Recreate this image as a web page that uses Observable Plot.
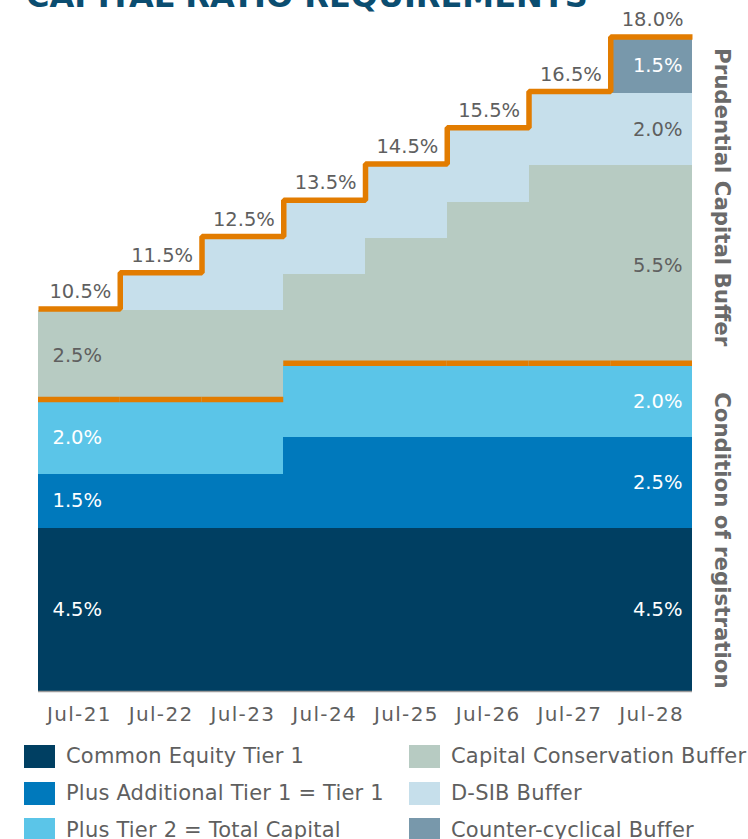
<!DOCTYPE html>
<html>
<head>
<meta charset="utf-8">
<script src="https://cdn.jsdelivr.net/npm/d3@7"></script>
<script src="https://cdn.jsdelivr.net/npm/@observablehq/plot@0.6"></script>
<style>
  body { margin: 0; background: #fff; font-family: "DejaVu Sans", sans-serif; }
  #wrap { position: relative; width: 748px; height: 839px; overflow: hidden; }
  #title { position: absolute; left: 26px; top: -20px; font: bold 32px "DejaVu Sans", sans-serif; line-height: 32px; color: #0b4d70; white-space: nowrap; z-index: 2; }
  #chart { position: absolute; left: 0; top: 0; }
  #legend { position: absolute; left: 24px; top: 738px; display: grid; grid-auto-flow: column; grid-template-columns: 385px auto; grid-template-rows: repeat(3, 36.7px); }
  .item { display: flex; align-items: center; font: 21px "DejaVu Sans", sans-serif; letter-spacing: 0.2px; color: #5f5f5f; white-space: nowrap; }
  .sw { width: 31px; height: 23px; margin-right: 11px; flex: none; }
  g[aria-label="totals"] text, g[aria-label="seglabels"] text { letter-spacing: 2.2px; }
  g[aria-label="x-axis tick label"] text { letter-spacing: 1.3px; }
</style>
</head>
<body>
<div id="wrap">
  <div id="title">CAPITAL RATIO REQUIREMENTS</div>
  <div id="chart"></div>
  <div id="legend"></div>
</div>
<script>
const periods = ["Jul-21", "Jul-22", "Jul-23", "Jul-24", "Jul-25", "Jul-26", "Jul-27", "Jul-28"];
const seriesNames = [
  "Common Equity Tier 1",
  "Plus Additional Tier 1 = Tier 1",
  "Plus Tier 2 = Total Capital",
  "Capital Conservation Buffer",
  "D-SIB Buffer",
  "Counter-cyclical Buffer"
];
const seriesColors = ["#003f62", "#0079bc", "#5bc5e8", "#b7cbc2", "#c6dfeb", "#7898ab"];
const cet1  = [4.5, 4.5, 4.5, 4.5, 4.5, 4.5, 4.5, 4.5];
const at1   = [1.5, 1.5, 1.5, 2.5, 2.5, 2.5, 2.5, 2.5];
const tier2 = [2.0, 2.0, 2.0, 2.0, 2.0, 2.0, 2.0, 2.0];
const ccb   = [2.5, 2.5, 2.5, 2.5, 3.5, 4.5, 5.5, 5.5];
const dsib  = [0.0, 1.0, 2.0, 2.0, 2.0, 2.0, 2.0, 2.0];
const ccyb  = [0.0, 0.0, 0.0, 0.0, 0.0, 0.0, 0.0, 1.5];
const sideLabels = ["Prudential Capital Buffer", "Condition of registration"];

const seriesValues = [cet1, at1, tier2, ccb, dsib, ccyb];
const whiteLabel = [true, true, true, false, false, true];
const orange = "#e27c00";
const gray = "#5f5f5f";

const cells = [];
periods.forEach((p, i) => {
  let acc = 0;
  seriesValues.forEach((vals, s) => {
    const v = vals[i];
    cells.push({i, s, series: seriesNames[s], y1: acc, y2: acc + v, v});
    acc += v;
  });
});
const n = periods.length;
const totals = periods.map((p, i) => d3.sum(seriesValues, vals => vals[i]));
const condition = periods.map((p, i) => cet1[i] + at1[i] + tier2[i]);
const stepPts = totals.map((t, i) => ({x: i, y: t})).concat([{x: n, y: totals[n - 1]}]);
const segLabels = cells.filter(d => d.v > 0 && ((d.i === 0 && d.s < 4) || d.i === n - 1));
const fmt = v => v.toFixed(1) + "%";
const sideData = [
  {t: sideLabels[0], y: (condition[n - 1] + totals[n - 1]) / 2},
  {t: sideLabels[1], y: condition[n - 1] / 2}
];

const textCommon = {
  y: d => (d.y1 + d.y2) / 2,
  text: d => fmt(d.v),
  fontSize: 19.5,
  ariaLabel: "seglabels"
};

const chart = Plot.plot({
  width: 748,
  height: 735,
  marginTop: 38.5,
  marginBottom: 44,
  marginLeft: 38,
  marginRight: 56,
  style: {fontFamily: "DejaVu Sans, sans-serif", background: "transparent", overflow: "visible"},
  x: {domain: [0, n]},
  y: {domain: [0, d3.max(totals)], axis: null},
  color: {domain: seriesNames, range: seriesColors},
  marks: [
    Plot.rect(cells.filter(d => d.v > 0), {
      x1: "i", x2: d => d.i + 1, y1: "y1", y2: "y2", fill: "series", shapeRendering: "crispEdges"
    }),
    Plot.ruleY([0], {stroke: "#9a9a9a", strokeWidth: 1.5}),
    Plot.ruleY(condition.map((c, i) => ({i, c})), {
      x1: "i", x2: d => d.i + 1, y: "c", stroke: orange, strokeWidth: 5.5, dy: -2, strokeLinecap: "butt"
    }),
    Plot.line(stepPts, {
      x: "x", y: "y", curve: "step-after", stroke: orange, strokeWidth: 5.5, dy: -2,
      strokeLinejoin: "miter", strokeLinecap: "butt"
    }),
    Plot.text(totals.map((t, i) => ({i, t})), {
      x: d => d.i + 0.5, y: "t", text: d => fmt(d.t), dy: -19, dx: 1, fill: gray, fontSize: 19.5, ariaLabel: "totals"
    }),
    Plot.text(segLabels.filter(d => d.i === 0 && whiteLabel[d.s]), {...textCommon, x: "i", dx: 14, textAnchor: "start", fill: "#ffffff"}),
    Plot.text(segLabels.filter(d => d.i === 0 && !whiteLabel[d.s]), {...textCommon, x: "i", dx: 14, textAnchor: "start", fill: gray}),
    Plot.text(segLabels.filter(d => d.i === n - 1 && whiteLabel[d.s]), {...textCommon, x: d => d.i + 1, dx: -10, textAnchor: "end", fill: "#ffffff"}),
    Plot.text(segLabels.filter(d => d.i === n - 1 && !whiteLabel[d.s]), {...textCommon, x: d => d.i + 1, dx: -10, textAnchor: "end", fill: gray}),
    Plot.text(sideData.slice(0, 1), {x: () => n, y: "y", text: "t", rotate: 90, dx: 29, dy: -5, fontWeight: "bold", fontSize: 21.3, fill: "#6a6a6a"}),
    Plot.text(sideData.slice(1), {x: () => n, y: "y", text: "t", rotate: 90, dx: 29, dy: 12, fontWeight: "bold", fontSize: 21.3, fill: "#6a6a6a"}),
    Plot.axisX({
      ticks: periods.map((p, i) => i + 0.5),
      tickFormat: d => periods[Math.floor(d)],
      tickSize: 0, tickPadding: 15, fontSize: 20, color: gray, label: null
    })
  ]
});
document.getElementById("chart").appendChild(chart);

const legend = document.getElementById("legend");
seriesNames.forEach((name, s) => {
  const item = document.createElement("div");
  item.className = "item";
  const sw = document.createElement("span");
  sw.className = "sw";
  sw.style.background = seriesColors[s];
  item.appendChild(sw);
  item.appendChild(document.createTextNode(name));
  legend.appendChild(item);
});
</script>
</body>
</html>
